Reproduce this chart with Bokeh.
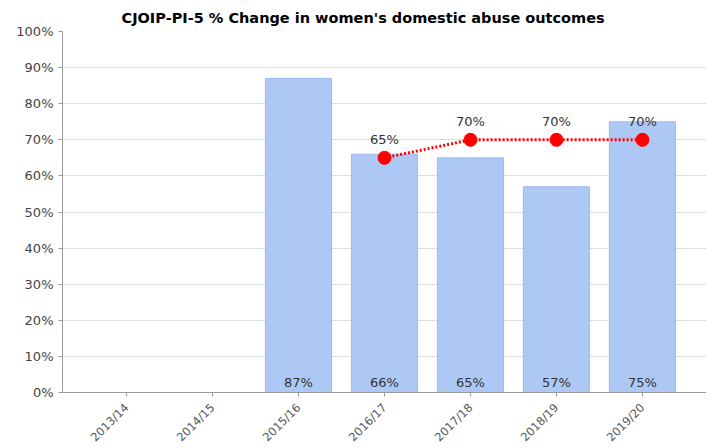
from bokeh.plotting import figure
from bokeh.models import ColumnDataSource, Range1d, FixedTicker, NumeralTickFormatter
from bokeh.core.properties import value
from bokeh.embed import file_html
from bokeh.resources import INLINE

categories = ["2013/14", "2014/15", "2015/16", "2016/17", "2017/18", "2018/19", "2019/20"]
bar_years = ["2015/16", "2016/17", "2017/18", "2018/19", "2019/20"]
bar_values = [0.87, 0.66, 0.65, 0.57, 0.75]
line_years = ["2016/17", "2017/18", "2018/19", "2019/20"]
line_values = [0.65, 0.70, 0.70, 0.70]
y_ticks = [0, 0.1, 0.2, 0.3, 0.4, 0.5, 0.6, 0.7, 0.8, 0.9, 1.0]

FONT = "DejaVu Sans"
TXT = "#333333"

bar_src = ColumnDataSource(dict(
    x=[categories.index(c) for c in bar_years],
    top=bar_values,
    label=[f"{round(v*100)}%" for v in bar_values],
))
line_src = ColumnDataSource(dict(
    x=[categories.index(c) for c in line_years],
    y=line_values,
    label=[f"{round(v*100)}%" for v in line_values],
))

p = figure(
    frame_width=644, frame_height=361,
    min_border_left=62, min_border_right=0, min_border_top=31, min_border_bottom=48,
    x_range=Range1d(-0.745, 6.745), y_range=Range1d(0, 1),
    output_backend="svg", toolbar_location=None,
    title="CJOIP-PI-5 % Change in women's domestic abuse outcomes",
)
p.title.text_font = FONT
p.title.text_font_size = "14.5px"
p.title.text_font_style = "bold"
p.title.text_color = "#000000"
p.title.align = "left"
p.title.offset = 59
p.title.standoff = 12
p.outline_line_color = None

p.vbar(x="x", top="top", width=0.77, source=bar_src,
       fill_color="#aec8f5", line_color="#9dbbef", line_width=1)

p.text(x="x", y=0, text="label", source=bar_src, text_align="center",
       text_baseline="bottom", y_offset=-3, text_font=value(FONT),
       text_font_size="13px", text_color=TXT)

p.line(x="x", y="y", source=line_src, line_color="#ff0000", line_width=3,
       line_dash="2 2")
p.scatter(x="x", y="y", source=line_src, size=13, fill_color="#ff0000",
          line_color="#ff0000")
p.text(x="x", y="y", text="label", source=line_src, text_align="center",
       text_baseline="bottom", y_offset=-11, text_font=value(FONT),
       text_font_size="13px", text_color=TXT)

p.xaxis.ticker = FixedTicker(ticks=list(range(len(categories))))
p.xaxis.major_label_overrides = {i: c for i, c in enumerate(categories)}
p.xaxis.major_label_orientation = 0.785
p.xaxis.major_label_text_font = FONT
p.xaxis.major_label_text_font_size = "11.5px"
p.xaxis.major_label_text_color = "#555555"
p.xaxis.major_label_standoff = 9
p.xaxis.minor_tick_line_color = None

p.yaxis.ticker = FixedTicker(ticks=y_ticks)
p.yaxis.formatter = NumeralTickFormatter(format="0%")
p.yaxis.major_label_text_font = FONT
p.yaxis.major_label_text_font_size = "13px"
p.yaxis.major_label_text_color = "#444444"
p.yaxis.minor_tick_line_color = None

for ax in (p.xaxis, p.yaxis):
    ax.axis_line_color = "#999999"
    ax.major_tick_line_color = "#999999"
    ax.major_tick_out = 4
    ax.major_tick_in = 0

p.xgrid.grid_line_color = None
p.ygrid.grid_line_color = "#dddddd"
p.ygrid.ticker = FixedTicker(ticks=y_ticks)

open("out.html", "w").write(file_html(p, INLINE))
